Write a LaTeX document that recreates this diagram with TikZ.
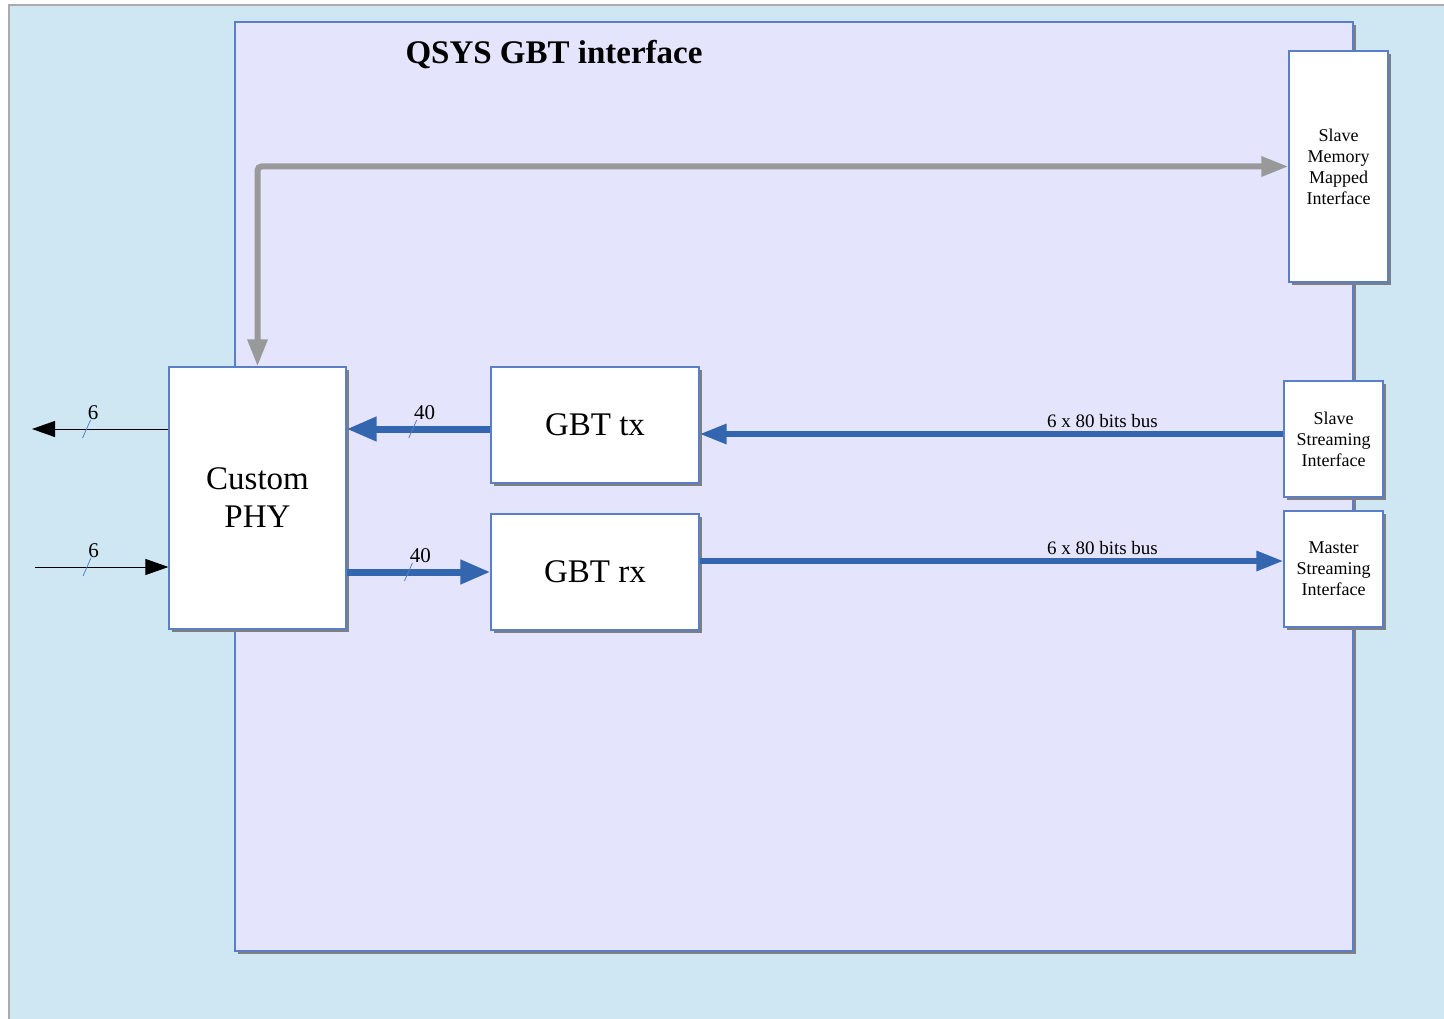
\documentclass[tikz,border=0pt]{standalone}
\usepackage{fontspec}
\setmainfont{Liberation Serif}
\usetikzlibrary{arrows.meta,shadows}

\definecolor{outerbg}{HTML}{CFE6F3}
\definecolor{qsysbg}{HTML}{E4E4FC}
\definecolor{boxline}{HTML}{5A7EC8}
\definecolor{busblue}{HTML}{3465AF}
\definecolor{busgray}{HTML}{999999}
\definecolor{shadowgray}{HTML}{7F7F7F}
\definecolor{framegray}{HTML}{ABABAB}

\begin{document}
\begin{tikzpicture}[x=1pt,y=-1pt,
	block/.style={draw=boxline,line width=1.2pt,fill=white,inner sep=0pt,align=center,
		drop shadow={shadow xshift=3pt,shadow yshift=-3pt,fill=shadowgray,opacity=1}},
	bigtext/.style={font=\fontsize{33}{38}\selectfont},
	smalltext/.style={font=\fontsize{18}{21}\selectfont},
	lbltext/.style={font=\fontsize{19}{23}\selectfont,inner sep=0pt},
	widthtext/.style={font=\fontsize{21}{24}\selectfont,inner sep=0pt},
	bluebus/.style={draw=busblue,line width=7pt,-{Triangle[length=30pt,width=23pt]}},
	wideblue/.style={draw=busblue,line width=6pt,-{Triangle[length=27pt,width=19pt]}},
	graybus/.style={draw=busgray,line width=6pt,rounded corners=4pt,
		{Triangle[length=27pt,width=19pt]}-{Triangle[length=27pt,width=19pt]}},
	pinline/.style={draw=black,line width=1pt,-{Triangle[length=23pt,width=16pt]}},
	slashline/.style={draw=boxline,line width=0.8pt}]
	\useasboundingbox (0,0) rectangle (1444,1019);
	\fill[outerbg] (9,5) rectangle (1444,1019);
	\draw[framegray,line width=1.5pt] (1444,5) -- (9,5) -- (9,1019);

	% qsys component
	\node[block,fill=qsysbg,minimum width=1118pt,minimum height=929pt] (qsys) at (794,486.5) {};
	\node[font=\fontsize{33}{38}\selectfont\bfseries,anchor=base] (title) at (554,64) {QSYS GBT interface};

	\node[block,bigtext,minimum width=177pt,minimum height=262pt] (phy) at (257.5,498) {Custom\\PHY};
	\node[block,bigtext,minimum width=208pt,minimum height=116pt] (gbttx) at (595,425) {GBT tx};
	\node[block,bigtext,minimum width=208pt,minimum height=116pt] (gbtrx) at (595,572) {GBT rx};
	\node[block,smalltext,minimum width=99pt,minimum height=231pt] (smm) at (1338.5,166.5) {Slave\\Memory\\Mapped\\Interface};
	\node[block,smalltext,minimum width=99pt,minimum height=116pt] (sst) at (1333.5,439) {Slave\\Streaming\\Interface};
	\node[block,smalltext,minimum width=99pt,minimum height=116pt] (mst) at (1333.5,569) {Master\\Streaming\\Interface};

	% control path
	\draw[graybus] (smm.west) -| (phy.north);

	% phy <-> gbt
	\coordinate (txin) at ([yshift=-4pt]gbttx.west);
	\draw[bluebus] (txin) -- coordinate[pos=0.54] (txcut) (txin -| phy.east);
	\draw[bluebus] (phy.east |- gbtrx.west) -- coordinate[pos=0.43] (rxcut) (gbtrx.west);

	% gbt <-> streaming interfaces
	\coordinate (sstout) at ([yshift=5pt]sst.west);
	\draw[wideblue] (sstout) -- node[lbltext,above=3pt,pos=0.31] (txbuslbl) {6 x 80 bits bus} (sstout -| gbttx.east);
	\coordinate (mstin) at ([yshift=8pt]mst.west);
	\draw[wideblue] (mstin -| gbtrx.east) -- node[lbltext,above=3pt,pos=0.69] (rxbuslbl) {6 x 80 bits bus} (mstin);

	% serial pins
	\coordinate (phyout) at (32,429);
	\coordinate (phyin) at (35,567);
	\draw[pinline] (phyout -| phy.west) -- coordinate[pos=0.6] (outcut) (phyout);
	\draw[pinline] (phyin) -- coordinate[pos=0.39] (incut) (phyin -| phy.west);

	% bus widths
	\foreach \cut/\bits in {txcut/40, rxcut/40, outcut/6, incut/6}
		\draw[slashline] ([shift={(-4pt,-9pt)}]\cut) -- ([shift={(4pt,9pt)}]\cut)
			node[widthtext,anchor=south west,xshift=-3pt,yshift=0pt] (\cut-lbl) {\bits};
\end{tikzpicture}
\end{document}
